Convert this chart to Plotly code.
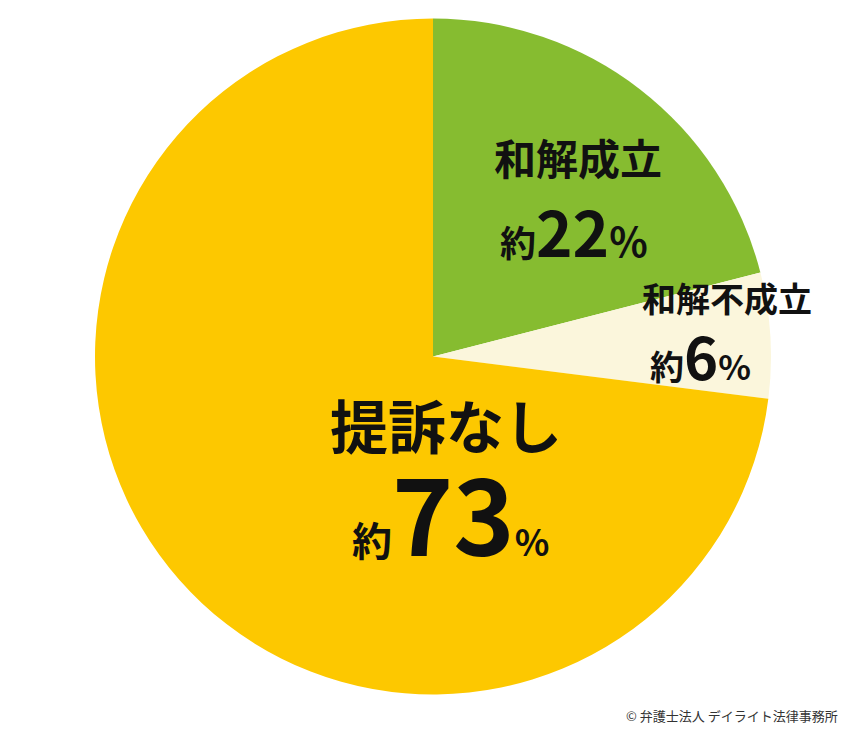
import plotly.graph_objects as go

categories = ["和解成立", "和解不成立", "提訴なし"]
values = [21, 6, 73]
label_pct = ["22", "6", "73"]
colors = ["#86bc30", "#fbf6dc", "#fdc800"]

W, H = 850, 738
DX, DY = -8, -8
fig = go.Figure(go.Pie(
    labels=categories, values=values, sort=False, direction="clockwise",
    rotation=0, marker=dict(colors=colors, line=dict(width=0)),
    textinfo="none", hoverinfo="label+percent", showlegend=False,
    domain=dict(x=[(95+DX)/W, (771+DX)/W], y=[(H-695-DY)/H, (H-18-DY)/H]),
))

F = "Noto Sans CJK JP"
def ann(x, y, text):
    fig.add_annotation(x=(x+DX)/W, y=1-(y+DY)/H, xref="paper", yref="paper", text=text,
                       showarrow=False, font=dict(family=F, color="#111", size=12),
                       xanchor="center", yanchor="middle")

ann(578, 156, f'<b><span style="font-size:42px">{categories[0]}</span></b>')
ann(574, 230, f'<b><span style="font-size:36px">約</span><span style="font-size:62px">{label_pct[0]}</span><span style="font-size:40px">%</span></b>')
ann(727, 297, f'<b><span style="font-size:34px">{categories[1]}</span></b>')
ann(700, 355, f'<b><span style="font-size:34px">約</span><span style="font-size:58px">{label_pct[1]}</span><span style="font-size:34px">%</span></b>')
ann(446, 424, f'<b><span style="font-size:58px">{categories[2]}</span></b>')
ann(450, 510, f'<b><span style="font-size:40px">約</span><span style="font-size:104px">{label_pct[2]}</span><span style="font-size:36px">%</span></b>')
fig.add_annotation(x=(832)/W, y=1-(707)/H, xref="paper", yref="paper",
                   text="© 弁護士法人 デイライト法律事務所", showarrow=False,
                   font=dict(family=F, size=13, color="#333"),
                   xanchor="right", yanchor="middle")

fig.update_layout(width=W, height=H, margin=dict(l=0, r=0, t=0, b=0),
                  paper_bgcolor="white", plot_bgcolor="white")
fig.write_html("out.html")
